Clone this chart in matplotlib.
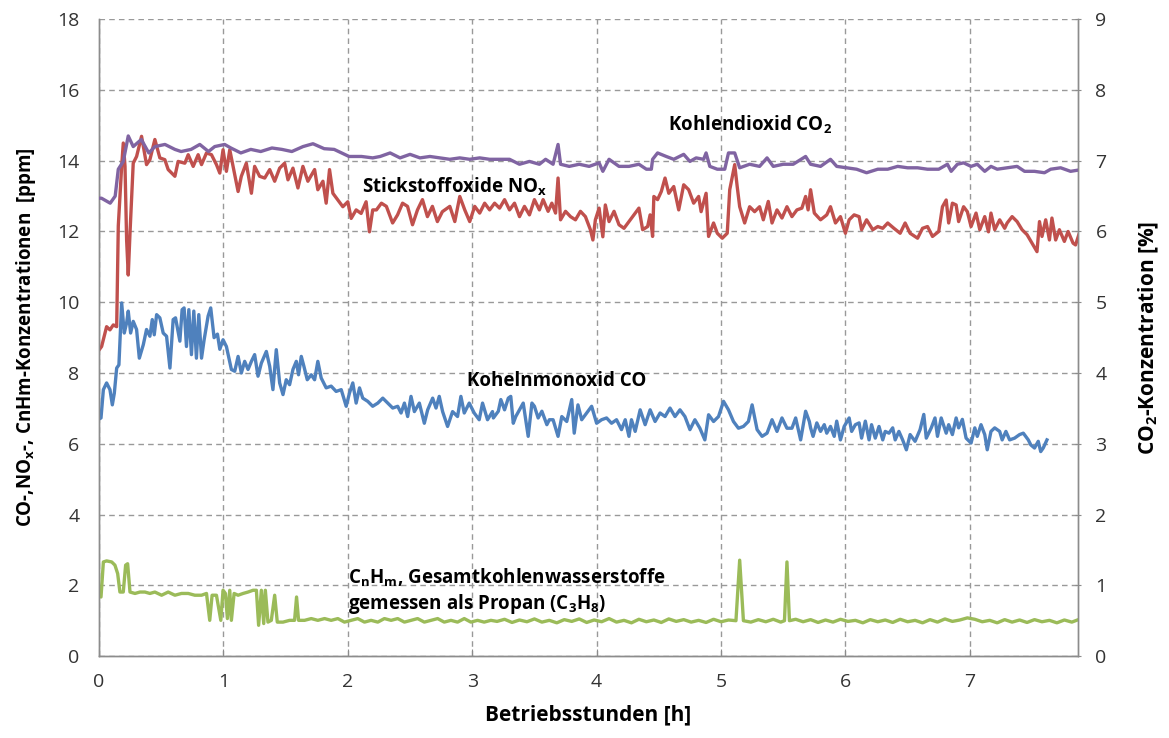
import matplotlib
matplotlib.use("Agg")
import matplotlib.pyplot as plt

plt.rcParams['font.family'] = ['Open Sans', 'DejaVu Sans']
plt.rcParams['mathtext.fontset'] = 'custom'
plt.rcParams['mathtext.rm'] = 'Open Sans'
plt.rcParams['mathtext.bf'] = 'Open Sans:bold'

# CO2 [%] (right axis)
co2_h = [0.00, 0.02, 0.09, 0.13, 0.155, 0.195, 0.235, 0.275, 0.34, 0.40, 0.45, 0.53, 0.61, 0.66,
         0.74, 0.81, 0.88, 0.93, 1.01, 1.06, 1.14, 1.22, 1.30, 1.39, 1.47, 1.55, 1.64, 1.72,
         1.81, 1.89, 2.01, 2.11, 2.20, 2.26, 2.34, 2.42, 2.50, 2.58, 2.66, 2.74, 2.82, 2.90,
         2.98, 3.06, 3.14, 3.22, 3.30, 3.38, 3.46, 3.54, 3.59, 3.65, 3.69, 3.71, 3.78, 3.86,
         3.94, 4.02, 4.05, 4.10, 4.18, 4.26, 4.34, 4.40, 4.44, 4.45, 4.49, 4.56, 4.62, 4.70,
         4.75, 4.80, 4.86, 4.88, 4.91, 4.97, 5.03, 5.06, 5.11, 5.15, 5.23, 5.31, 5.37, 5.42,
         5.50, 5.58, 5.68, 5.72, 5.80, 5.88, 5.93, 6.01, 6.09, 6.17, 6.26, 6.34, 6.42, 6.50,
         6.58, 6.66, 6.75, 6.77, 6.82, 6.85, 6.90, 6.95, 7.01, 7.06, 7.12, 7.17, 7.22, 7.30,
         7.38, 7.44, 7.52, 7.60, 7.65, 7.73, 7.81, 7.88]
co2_pct = [6.47, 6.47, 6.40, 6.50, 6.88, 6.99, 7.35, 7.20, 7.30, 7.11, 7.20, 7.23, 7.16, 7.13,
           7.16, 7.23, 7.13, 7.20, 7.23, 7.18, 7.11, 7.16, 7.13, 7.18, 7.16, 7.13, 7.20, 7.24,
           7.17, 7.16, 7.06, 7.06, 7.04, 7.06, 7.11, 7.04, 7.09, 7.04, 7.06, 7.04, 7.02, 7.04,
           7.02, 7.04, 7.02, 7.02, 7.02, 6.95, 6.99, 6.95, 7.02, 6.95, 7.23, 6.95, 6.92, 6.95,
           6.92, 6.97, 6.85, 7.02, 6.92, 6.92, 6.95, 6.88, 6.88, 7.02, 7.11, 7.06, 7.02, 7.09,
           6.99, 7.04, 7.02, 7.11, 6.92, 6.88, 6.88, 7.11, 7.11, 6.90, 6.95, 6.92, 7.04, 6.92,
           6.95, 6.95, 7.06, 6.95, 6.92, 7.02, 6.92, 6.90, 6.88, 6.83, 6.88, 6.88, 6.92, 6.90,
           6.90, 6.88, 6.88, 6.90, 6.95, 6.85, 6.95, 6.97, 6.92, 6.95, 6.85, 6.92, 6.88, 6.90,
           6.92, 6.85, 6.85, 6.83, 6.88, 6.90, 6.85, 6.87]

# NOx [ppm]
nox_h = [0.00, 0.021, 0.061, 0.088, 0.115, 0.142, 0.155, 0.182, 0.195, 0.209, 0.222, 0.235, 0.249,
         0.275, 0.302, 0.342, 0.382, 0.409, 0.449, 0.489, 0.529, 0.556, 0.610, 0.636, 0.690,
         0.717, 0.757, 0.797, 0.824, 0.864, 0.904, 0.944, 0.971, 0.997, 1.024, 1.051, 1.078,
         1.118, 1.144, 1.184, 1.225, 1.251, 1.291, 1.332, 1.372, 1.412, 1.452, 1.492, 1.519,
         1.559, 1.599, 1.639, 1.679, 1.733, 1.759, 1.800, 1.826, 1.853, 1.880, 1.920, 1.960,
         2.000, 2.027, 2.067, 2.107, 2.147, 2.174, 2.200, 2.23, 2.27, 2.31, 2.36, 2.40, 2.44,
         2.48, 2.52, 2.56, 2.60, 2.64, 2.68, 2.72, 2.76, 2.82, 2.86, 2.90, 2.94, 2.98, 3.02,
         3.06, 3.10, 3.14, 3.18, 3.22, 3.26, 3.30, 3.34, 3.38, 3.42, 3.46, 3.50, 3.54, 3.57,
         3.61, 3.64, 3.67, 3.69, 3.71, 3.75, 3.79, 3.83, 3.87, 3.91, 3.95, 3.97, 3.99, 4.02,
         4.05, 4.07, 4.10, 4.14, 4.18, 4.22, 4.26, 4.30, 4.34, 4.37, 4.41, 4.43, 4.45, 4.46,
         4.49, 4.52, 4.55, 4.58, 4.62, 4.66, 4.70, 4.74, 4.78, 4.82, 4.84, 4.88, 4.90, 4.94,
         4.97, 5.01, 5.05, 5.07, 5.11, 5.13, 5.15, 5.19, 5.23, 5.27, 5.31, 5.34, 5.38, 5.41,
         5.45, 5.49, 5.53, 5.57, 5.61, 5.65, 5.68, 5.70, 5.72, 5.75, 5.80, 5.85, 5.88, 5.92,
         5.96, 6.00, 6.03, 6.07, 6.11, 6.13, 6.17, 6.22, 6.26, 6.30, 6.34, 6.39, 6.44, 6.48,
         6.52, 6.58, 6.62, 6.66, 6.70, 6.75, 6.78, 6.81, 6.83, 6.86, 6.89, 6.91, 6.95, 6.98,
         7.01, 7.05, 7.08, 7.12, 7.15, 7.17, 7.20, 7.24, 7.28, 7.30, 7.34, 7.38, 7.42, 7.46,
         7.50, 7.54, 7.56, 7.58, 7.61, 7.64, 7.66, 7.69, 7.72, 7.76, 7.79, 7.83, 7.85, 7.88]
nox_ppm = [8.65, 8.75, 9.31, 9.22, 9.36, 9.31, 12.16, 13.84, 14.50, 13.84, 11.75, 10.77, 11.95,
           13.93, 14.12, 14.69, 13.89, 14.03, 14.60, 14.08, 14.03, 13.75, 13.56, 13.98, 13.93,
           14.17, 13.84, 14.17, 13.89, 14.22, 14.17, 13.89, 13.65, 14.31, 13.70, 14.31, 13.84,
           13.13, 13.56, 13.93, 13.08, 13.84, 13.56, 13.51, 13.75, 13.42, 13.79, 13.93, 13.46,
           13.79, 13.23, 13.84, 13.42, 13.75, 13.18, 13.42, 12.80, 13.75, 13.08, 12.89, 12.70,
           12.84, 12.37, 12.61, 12.51, 12.84, 11.99, 12.61, 12.61, 12.80, 12.71, 12.24, 12.47, 12.80,
           12.71, 12.19, 12.61, 12.90, 12.42, 12.71, 12.28, 12.56, 12.71, 12.28, 12.99, 12.61, 12.28, 12.71,
           12.52, 12.80, 12.61, 12.80, 12.66, 12.90, 12.61, 12.80, 12.42, 12.71, 12.47, 12.90, 12.61, 12.90,
           12.57, 12.80, 12.52, 13.51, 12.33, 12.57, 12.42, 12.33, 12.57, 12.42, 12.05, 11.76, 12.33, 12.66,
           11.85, 12.75, 12.28, 12.57, 12.19, 12.09, 12.28, 12.47, 12.66, 12.05, 12.14, 12.47, 11.86, 12.99,
           12.90, 13.13, 13.51, 13.08, 13.27, 12.61, 13.32, 13.18, 12.80, 12.99, 12.56, 13.08, 11.86, 12.24,
           11.95, 11.81, 11.95, 13.18, 13.89, 13.27, 12.70, 12.24, 12.70, 12.56, 12.70, 12.33, 12.85, 12.24,
           12.61, 12.38, 12.70, 12.42, 12.61, 12.66, 12.99, 12.61, 13.18, 12.52, 12.33, 12.47, 12.70, 12.24,
           12.42, 11.95, 12.33, 12.47, 12.42, 12.05, 12.33, 12.05, 12.14, 12.09, 12.24, 12.09, 11.95, 12.24,
           11.95, 11.81, 12.09, 12.14, 11.86, 12.00, 12.70, 12.89, 12.24, 12.80, 12.75, 12.28, 12.70, 12.56,
           12.14, 12.52, 12.05, 12.42, 11.99, 12.52, 12.05, 12.33, 12.09, 12.24, 12.42, 12.28, 12.05, 11.91,
           11.67, 11.43, 12.28, 11.86, 12.33, 11.76, 12.38, 11.76, 12.05, 11.72, 12.00, 11.67, 11.62, 11.95]

# CO [ppm]
co_h = [0.00, 0.016, 0.035, 0.061, 0.088, 0.107, 0.123, 0.142, 0.160, 0.182, 0.203, 0.222, 0.235,
        0.254, 0.275, 0.302, 0.324, 0.356, 0.382, 0.409, 0.428, 0.444, 0.463, 0.489, 0.516,
        0.543, 0.570, 0.596, 0.615, 0.650, 0.668, 0.684, 0.703, 0.722, 0.743, 0.762, 0.783,
        0.802, 0.824, 0.845, 0.877, 0.898, 0.925, 0.952, 0.971, 0.997, 1.024, 1.064, 1.091,
        1.118, 1.144, 1.171, 1.198, 1.225, 1.251, 1.278, 1.305, 1.345, 1.372, 1.398, 1.425,
        1.452, 1.479, 1.505, 1.532, 1.559, 1.586, 1.604, 1.626, 1.647, 1.674, 1.706, 1.733,
        1.759, 1.786, 1.826, 1.866, 1.906, 1.947, 1.987, 2.013, 2.040, 2.067, 2.094, 2.120,
        2.160, 2.200, 2.241, 2.281, 2.321, 2.361, 2.401, 2.428, 2.455, 2.481, 2.508, 2.535,
        2.575, 2.615, 2.642, 2.682, 2.709, 2.735, 2.762, 2.802, 2.842, 2.882, 2.909, 2.936,
        2.976, 3.016, 3.056, 3.083, 3.123, 3.163, 3.17, 3.21, 3.23, 3.26, 3.29, 3.31, 3.33,
        3.35, 3.38, 3.41, 3.45, 3.48, 3.50, 3.53, 3.56, 3.60, 3.62, 3.65, 3.69, 3.72, 3.76,
        3.80, 3.82, 3.85, 3.88, 3.92, 3.96, 4.00, 4.04, 4.08, 4.12, 4.16, 4.20, 4.23, 4.26,
        4.28, 4.31, 4.35, 4.39, 4.43, 4.47, 4.51, 4.55, 4.59, 4.63, 4.67, 4.71, 4.75, 4.79,
        4.83, 4.87, 4.90, 4.94, 4.98, 5.02, 5.06, 5.10, 5.14, 5.18, 5.22, 5.25, 5.29, 5.33,
        5.37, 5.41, 5.45, 5.49, 5.53, 5.57, 5.60, 5.64, 5.68, 5.71, 5.72, 5.74, 5.77, 5.80,
        5.83, 5.85, 5.88, 5.91, 5.93, 5.96, 5.99, 6.03, 6.05, 6.08, 6.11, 6.13, 6.16, 6.19,
        6.21, 6.24, 6.27, 6.30, 6.32, 6.35, 6.38, 6.40, 6.43, 6.46, 6.49, 6.52, 6.56, 6.60,
        6.63, 6.65, 6.69, 6.72, 6.74, 6.77, 6.81, 6.83, 6.86, 6.89, 6.91, 6.94, 6.97, 7.01,
        7.04, 7.06, 7.09, 7.12, 7.14, 7.17, 7.20, 7.24, 7.26, 7.29, 7.32, 7.36, 7.40, 7.43,
        7.47, 7.49, 7.52, 7.55, 7.57, 7.59, 7.62]
co_ppm = [6.70, 6.73, 7.53, 7.72, 7.53, 7.10, 7.43, 8.14, 8.23, 9.98, 9.13, 9.42, 9.75,
          9.13, 9.46, 9.23, 8.42, 8.80, 9.23, 9.04, 9.51, 9.08, 9.65, 9.56, 9.13,
          9.04, 8.14, 9.51, 9.56, 8.90, 9.79, 9.84, 8.75, 9.79, 8.52, 9.75, 8.42,
          9.65, 8.42, 8.94, 9.61, 9.84, 9.00, 9.10, 8.67, 8.94, 8.75, 8.10, 8.05,
          8.47, 8.00, 8.33, 8.10, 8.33, 8.52, 7.91, 8.28, 8.61, 8.19, 7.53, 8.66,
          7.72, 7.39, 7.81, 7.67, 8.10, 8.33, 7.95, 8.47, 8.19, 7.81, 7.95, 7.81,
          8.33, 7.86, 7.58, 7.63, 7.48, 7.53, 7.06, 7.43, 7.72, 7.15, 7.58, 7.29,
          7.20, 7.06, 7.15, 7.29, 7.15, 7.01, 7.06, 6.87, 7.15, 6.77, 7.34, 6.91,
          7.15, 6.58, 6.96, 7.29, 7.01, 7.34, 6.91, 6.49, 6.91, 6.77, 7.34, 6.87,
          7.15, 6.87, 6.68, 7.15, 6.68, 6.91, 6.73, 6.92, 7.25, 6.96, 7.29, 7.34, 6.58,
          6.77, 6.96, 7.15, 6.21, 7.15, 7.06, 6.73, 6.92, 6.54, 6.68, 6.68, 6.21, 6.77, 6.63,
          7.25, 6.30, 7.10, 6.68, 6.87, 7.06, 6.58, 6.68, 6.73, 6.58, 6.68, 6.40, 6.68, 6.21,
          6.68, 6.35, 6.96, 6.54, 6.96, 6.63, 6.87, 6.77, 7.01, 6.77, 6.96, 6.77, 6.40, 6.68,
          6.44, 6.11, 6.82, 6.63, 6.77, 7.20, 6.96, 6.63, 6.44, 6.49, 6.63, 7.10, 6.40, 6.21,
          6.30, 6.68, 6.35, 6.73, 6.44, 6.44, 6.73, 6.11, 6.92, 6.63, 6.45, 6.21, 6.59, 6.35,
          6.54, 6.30, 6.49, 6.21, 6.64, 6.11, 6.49, 6.73, 6.35, 6.54, 6.59, 6.16, 6.64, 6.11,
          6.54, 6.16, 6.49, 6.11, 6.35, 6.30, 6.45, 6.11, 6.35, 6.11, 5.83, 6.26, 6.07, 6.40,
          6.83, 6.16, 6.45, 6.73, 6.21, 6.73, 6.30, 6.54, 6.26, 6.73, 6.45, 6.69, 6.16, 6.02,
          6.45, 6.21, 6.54, 6.26, 5.83, 6.35, 6.45, 6.35, 6.11, 6.35, 6.11, 6.16, 6.26, 6.30,
          6.11, 5.97, 5.88, 6.07, 5.78, 5.88, 6.11]

# CnHm [ppm]
hc_h = [0.00, 0.016, 0.035, 0.061, 0.102, 0.128, 0.150, 0.168, 0.195, 0.214, 0.230, 0.249,
        0.289, 0.329, 0.369, 0.409, 0.449, 0.503, 0.556, 0.610, 0.663, 0.717, 0.770, 0.824,
        0.864, 0.890, 0.909, 0.944, 0.979, 0.997, 1.016, 1.032, 1.051, 1.064, 1.086, 1.118,
        1.158, 1.198, 1.238, 1.265, 1.283, 1.305, 1.324, 1.337, 1.358, 1.385, 1.412, 1.433,
        1.479, 1.532, 1.572, 1.588, 1.604, 1.652, 1.706, 1.759, 1.813, 1.866, 1.920, 1.973,
        2.027, 2.080, 2.134, 2.187, 2.241, 2.294, 2.348, 2.401, 2.455, 2.508, 2.561, 2.615,
        2.668, 2.722, 2.775, 2.829, 2.882, 2.936, 2.989, 3.043, 3.096, 3.150, 3.20, 3.26,
        3.32, 3.38, 3.44, 3.50, 3.56, 3.62, 3.68, 3.74, 3.80, 3.86, 3.92, 3.98, 4.04, 4.10,
        4.16, 4.22, 4.28, 4.34, 4.40, 4.46, 4.52, 4.58, 4.64, 4.70, 4.76, 4.82, 4.88, 4.94,
        5.00, 5.06, 5.12, 5.15, 5.18, 5.24, 5.30, 5.36, 5.42, 5.48, 5.51, 5.53, 5.55, 5.60,
        5.66, 5.72, 5.78, 5.84, 5.90, 5.96, 6.02, 6.08, 6.14, 6.20, 6.26, 6.32, 6.38, 6.44,
        6.50, 6.56, 6.62, 6.68, 6.74, 6.80, 6.86, 6.92, 6.98, 7.04, 7.10, 7.16, 7.22, 7.28,
        7.34, 7.40, 7.46, 7.52, 7.58, 7.64, 7.70, 7.76, 7.82, 7.88]
hc_ppm = [1.70, 1.67, 2.66, 2.69, 2.66, 2.57, 2.33, 1.81, 1.81, 2.57, 2.61, 1.81,
          1.77, 1.81, 1.81, 1.77, 1.81, 1.72, 1.81, 1.72, 1.77, 1.77, 1.72, 1.72,
          1.77, 1.01, 1.72, 1.72, 1.01, 1.86, 1.77, 1.06, 1.86, 1.01, 1.77, 1.72,
          1.77, 1.81, 1.86, 1.86, 0.87, 1.86, 0.92, 1.86, 0.96, 1.01, 1.72, 0.96,
          0.96, 1.01, 1.01, 1.67, 1.01, 1.01, 1.06, 1.01, 1.06, 1.01, 1.06, 0.96,
          1.01, 1.06, 0.96, 1.01, 0.96, 1.06, 1.01, 1.06, 0.96, 1.01, 1.06, 0.96,
          1.01, 1.06, 0.96, 1.01, 0.96, 1.06, 0.96, 1.01, 0.96, 1.01, 0.98, 1.04,
          0.95, 1.02, 0.97, 1.05, 0.96, 1.01, 0.94, 1.03, 0.98, 1.05, 0.95, 1.02, 0.97, 1.06,
          0.96, 1.01, 0.94, 1.04, 0.97, 1.02, 0.95, 1.05, 0.98, 1.03, 0.96, 1.01, 0.95, 1.04,
          0.97, 1.02, 1.00, 2.71, 1.00, 0.96, 1.03, 0.97, 1.04, 0.96, 1.00, 2.66, 1.00, 1.04,
          0.97, 1.03, 0.95, 1.02, 0.96, 1.04, 0.98, 1.01, 0.94, 1.03, 0.97, 1.02, 0.95, 1.04,
          0.97, 1.01, 0.94, 1.03, 0.96, 1.05, 0.98, 1.02, 1.08, 1.04, 0.97, 1.01, 0.94, 1.03,
          0.96, 1.02, 0.95, 1.03, 0.97, 1.01, 0.94, 1.02, 0.96, 1.04]

fig = plt.figure(figsize=(11.69, 7.38), dpi=100)
ax = fig.add_axes([0.0847, 0.111, 0.8375, 0.863])
ax2 = ax.twinx()

lw = 2.4
ax.plot(nox_h, nox_ppm, color='#C0504D', lw=lw, zorder=3)
ax.plot(co_h, co_ppm, color='#4F81BD', lw=lw, zorder=3)
ax.plot(hc_h, hc_ppm, color='#9BBB59', lw=lw, zorder=3)
ax2.plot(co2_h, co2_pct, color='#8064A2', lw=lw, zorder=3)

ax.set_xlim(0, 7.87)
ax.set_ylim(0, 18)
ax2.set_ylim(0, 9)
ax.set_xticks(range(0, 8))
ax.set_yticks(range(0, 19, 2))
ax2.set_yticks(range(0, 10))

ax.grid(True, color='#999999', linestyle=(0, (4, 3)), linewidth=1.0)
ax.set_axisbelow(True)

for a in (ax, ax2):
    a.spines['top'].set_visible(False)
    for s in ('left', 'right', 'bottom'):
        a.spines[s].set_color('#8c8c8c')
        a.spines[s].set_linewidth(1.0)

ax.tick_params(axis='y', length=0, labelsize=14, pad=14, colors='#333333')
ax.tick_params(axis='x', length=5, direction='in', labelsize=14, pad=12,
               color='#8c8c8c', labelcolor='#333333')
ax2.tick_params(axis='y', length=5, direction='inout', labelsize=14, pad=10,
                color='#8c8c8c', labelcolor='#333333')

ax.set_xlabel('Betriebsstunden [h]', fontsize=15, fontweight='bold', labelpad=10)
ax.set_ylabel(r'CO-,NO$_\mathbf{x}$-, CnHm-Konzentrationen  [ppm]', fontsize=13.5,
              fontweight='bold', labelpad=14)
ax2.set_ylabel(r'CO$_\mathbf{2}$-Konzentration [%]', fontsize=15, fontweight='bold',
               labelpad=22)

fs = 13.5
ax.text(4.57, 15.0, r'Kohlendioxid CO$_\mathbf{2}$', fontsize=fs, fontweight='bold', va='center')
ax.text(2.11, 13.25, r'Stickstoffoxide NO$_\mathbf{x}$', fontsize=fs, fontweight='bold', va='center')
ax.text(2.96, 7.78, 'Kohelnmonoxid CO', fontsize=fs, fontweight='bold', va='center')
ax.text(2.0, 2.2, r'C$_\mathbf{n}$H$_\mathbf{m}$, Gesamtkohlenwasserstoffe', fontsize=fs,
        fontweight='bold', va='center')
ax.text(2.0, 1.47, r'gemessen als Propan (C$_\mathbf{3}$H$_\mathbf{8}$)', fontsize=fs,
        fontweight='bold', va='center')

fig.savefig('out.png', dpi=100)
